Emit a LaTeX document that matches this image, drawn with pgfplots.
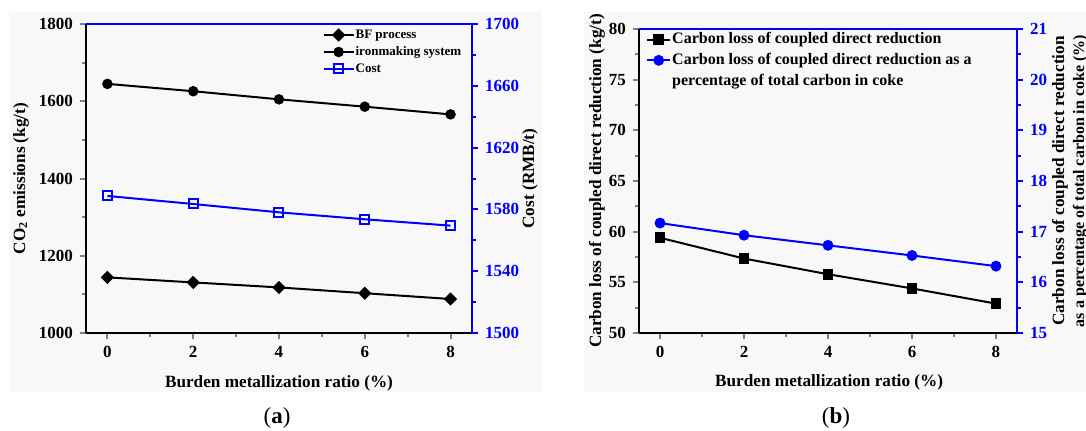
\documentclass[border=0pt]{standalone}
\usepackage{fontspec}
\setmainfont{Liberation Serif}
\usepackage{pgfplots}
\pgfplotsset{compat=1.18}
\definecolor{bgray}{RGB}{248,248,248}
\definecolor{pblue}{RGB}{0,0,255}

\pgfplotsset{
  twin/.style={
    scale only axis, anchor=south west,
    xmin=-0.5, xmax=8.5,
    tick align=outside,
    major tick length=3pt, minor tick length=1.8pt,
    tick style={line width=1pt},
    axis line style={line width=1.3pt},
    /pgf/number format/assume math mode=true,
    /pgf/number format/1000 sep={},
    scaled ticks=false,
    tick label style={font=\fontsize{8.5}{10}\selectfont\bfseries},
    label style={font=\fontsize{8.6}{10}\selectfont\bfseries},
    clip=false,
  },
  bfmark/.style={black, line width=1pt, mark=square*, mark size=1.85pt,
    mark options={rotate=45}},
}

\begin{document}
\begin{tikzpicture}
\path[use as bounding box] (0,0) rectangle (543pt,215pt);
\fill[bgray] (4.5pt,19pt) rectangle (271pt,209pt);
\fill[bgray] (292pt,19pt) rectangle (543pt,209pt);

% ---- (a) ----
\begin{axis}[twin, at={(43pt,48.5pt)}, width=193pt, height=154.5pt,
  axis x line*=bottom, axis y line*=left,
  ymin=1000, ymax=1800,
  xtick={0,2,...,8}, minor xtick={1,3,5,7},
  ytick={1000,1200,...,1800}, minor ytick={1100,1300,1500,1700},
  xlabel={Burden metallization ratio (\%)},
  ylabel={CO\textsubscript{2} emissions (kg/t)},
  xlabel style={at={(axis description cs:0.5,-0.162)}, anchor=center},
  ylabel style={at={(axis description cs:-0.168,0.5)}, anchor=center},
]
\addplot[bfmark]
  coordinates {(0,1144)(2,1131)(4,1118)(6,1103)(8,1088)};
\addplot[black, line width=1pt, mark=*, mark size=2.1pt]
  coordinates {(0,1645)(2,1626)(4,1605)(6,1586)(8,1566)};
\end{axis}

\begin{axis}[twin, at={(43pt,48.5pt)}, width=193pt, height=154.5pt,
  axis x line*=top, axis y line*=right, xtick=\empty,
  ymin=1500, ymax=1700,
  ytick={1500,1540,...,1700}, minor ytick={1520,1560,1600,1640,1680},
  axis line style={pblue}, tick style={pblue}, yticklabel style={pblue},
  ylabel={Cost (RMB/t)},
  ylabel style={at={(axis description cs:1.15,0.5)}, anchor=center},
  legend style={at={(axis description cs:0.612,0.99)}, anchor=north west,
    draw=none, fill=none, inner sep=0pt, row sep=1pt,
    font=\fontsize{6.5}{7.5}\selectfont\bfseries, text=black,
    nodes={inner sep=0.5pt, text height=5pt, text depth=1.5pt}},
  legend cell align=left,
  legend image code/.code={\draw[mark repeat=2,mark phase=2]
    plot coordinates {(0pt,0pt)(7.5pt,0pt)(15pt,0pt)};},
]
\addlegendimage{bfmark}
\addlegendentry{BF process}
\addlegendimage{black, line width=1pt, mark=*, mark size=2.1pt}
\addlegendentry{ironmaking system}
\addplot[pblue, line width=1pt, mark=square, mark size=2.25pt, mark options={fill=white}]
  coordinates {(0,1588.7)(2,1583.5)(4,1578.1)(6,1573.6)(8,1569.5)};
\addlegendentry{Cost}
\end{axis}

% ---- (b) ----
\begin{axis}[twin, at={(319.5pt,48.5pt)}, width=189pt, height=152pt,
  axis x line*=bottom, axis y line*=left,
  ymin=50, ymax=80,
  xtick={0,2,...,8}, minor xtick={1,3,5,7},
  ytick={50,55,...,80}, minor ytick={52.5,57.5,62.5,67.5,72.5,77.5},
  xlabel={Burden metallization ratio (\%)},
  ylabel={Carbon loss of coupled direct reduction (kg/t)},
  xlabel style={at={(axis description cs:0.503,-0.164)}, anchor=center},
  ylabel style={at={(axis description cs:-0.111,0.5)}, anchor=center},
]
\addplot[black, line width=1pt, mark=square*, mark size=2.2pt]
  coordinates {(0,59.4)(2,57.35)(4,55.8)(6,54.4)(8,52.9)};
\end{axis}

\begin{axis}[twin, at={(319.5pt,48.5pt)}, width=189pt, height=152pt,
  axis x line*=top, axis y line*=right, xtick=\empty,
  ymin=15, ymax=21,
  ytick={15,16,...,21}, minor ytick={15.5,16.5,17.5,18.5,19.5,20.5},
  axis line style={pblue}, tick style={pblue}, yticklabel style={pblue},
  ylabel={\fontsize{8.6}{10}\selectfont Carbon loss of coupled direct reduction\\
    \fontsize{8}{10}\selectfont as a percentage of total carbon in coke (\%)},
  ylabel style={at={(axis description cs:1.14,0.5)}, anchor=center, align=center},
  legend style={at={(axis description cs:0.018,0.995)}, anchor=north west,
    draw=none, fill=none, inner sep=0pt, row sep=1.5pt,
    font=\fontsize{8}{9}\selectfont\bfseries, text=black,
    nodes={inner sep=0.5pt, text height=6pt, text depth=1.8pt}},
  legend cell align=left,
  legend image code/.code={\draw[mark repeat=2,mark phase=2]
    plot coordinates {(0pt,0pt)(5.75pt,0pt)(11.5pt,0pt)};},
]
\addlegendimage{black, line width=1pt, mark=square*, mark size=2.2pt}
\addlegendentry{Carbon loss of coupled direct reduction}
\addplot[pblue, line width=1pt, mark=*, mark size=2.2pt]
  coordinates {(0,17.17)(2,16.93)(4,16.73)(6,16.53)(8,16.32)};
\addlegendentry{Carbon loss of coupled direct reduction as a}
\addlegendimage{empty legend}
\addlegendentry{percentage of total carbon in coke}
\end{axis}

\node[font=\fontsize{11.5}{13}\selectfont] at (138.5pt,6pt) {(\textbf{a})};
\node[font=\fontsize{11.5}{13}\selectfont] at (418pt,6pt) {(\textbf{b})};
\end{tikzpicture}
\end{document}
